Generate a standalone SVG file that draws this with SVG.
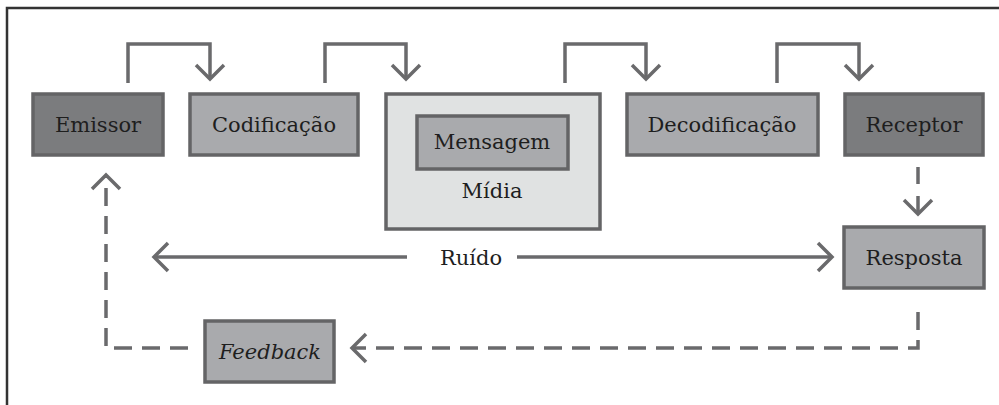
<svg xmlns="http://www.w3.org/2000/svg" width="999" height="405" viewBox="0 0 999 405">
<defs>
<style>
.box{stroke:#646466;stroke-width:3.5}
.dark{fill:#7b7c7e}
.mid{fill:#a9aaad}
.light{fill:#e0e2e2}
.t{font-family:"DejaVu Serif","Liberation Serif",serif;font-size:21px;fill:#1e1e1e;text-anchor:middle}
.ln{fill:none;stroke:#6a6a6c;stroke-width:3.5;stroke-linejoin:miter}
.dash{stroke-dasharray:18 10}
.head{fill:none;stroke:#6a6a6c;stroke-width:3.5;stroke-linecap:butt}
</style>
</defs>
<rect width="999" height="405" fill="#ffffff"/>
<path d="M7 405 V8 H999" fill="none" stroke="#333" stroke-width="2.5"/>

<g id="emissor"><rect class="box dark" x="33" y="94" width="130" height="61"/><text class="t" x="98" y="132">Emissor</text></g>
<g id="codificacao"><rect class="box mid" x="190" y="94" width="168" height="61"/><text class="t" x="274" y="132">Codificação</text></g>
<g id="midia"><rect class="box light" x="386" y="94" width="214" height="135"/><text class="t" x="492" y="198">Mídia</text></g>
<g id="mensagem"><rect class="box mid" x="417" y="116" width="151" height="53"/><text class="t" x="492" y="149">Mensagem</text></g>
<g id="decodificacao"><rect class="box mid" x="627" y="94" width="191" height="61"/><text class="t" x="722" y="132">Decodificação</text></g>
<g id="receptor"><rect class="box dark" x="845" y="94" width="138" height="61"/><text class="t" x="914" y="132">Receptor</text></g>
<g id="resposta"><rect class="box mid" x="844" y="227" width="140" height="61"/><text class="t" x="914" y="265">Resposta</text></g>
<g id="feedback"><rect class="box mid" x="205" y="321" width="129" height="61"/><text class="t" x="270" y="359" font-style="italic">Feedback</text></g>
<g id="ruido"><text class="t" x="471" y="265">Ruído</text></g>

<g id="connectors">
<path class="ln" d="M128 83 V44 H210 V79"/><path class="head" d="M196 65 L210 79 L224 65"/>
<path class="ln" d="M325 83 V44 H406 V79"/><path class="head" d="M392 65 L406 79 L420 65"/>
<path class="ln" d="M565 83 V44 H646 V79"/><path class="head" d="M632 65 L646 79 L660 65"/>
<path class="ln" d="M777 83 V44 H859 V79"/><path class="head" d="M845 65 L859 79 L873 65"/>

<path class="ln" d="M918 167 V184"/><path class="ln" d="M918 196 V213"/><path class="head" d="M904 200 L918 214 L932 200"/>

<path class="ln" d="M407 257 H155"/><path class="head" d="M168 243 L154 257 L168 271"/>
<path class="ln" d="M517 257 H832"/><path class="head" d="M818 243 L832 257 L818 271"/>

<path class="ln dash" d="M918 312 V348 H352"/><path class="head" d="M366 334 L352 348 L366 362"/>
<path class="ln dash" d="M188 348 H106 V175"/><path class="head" d="M92 189 L106 175 L120 189"/>
</g>
</svg>
